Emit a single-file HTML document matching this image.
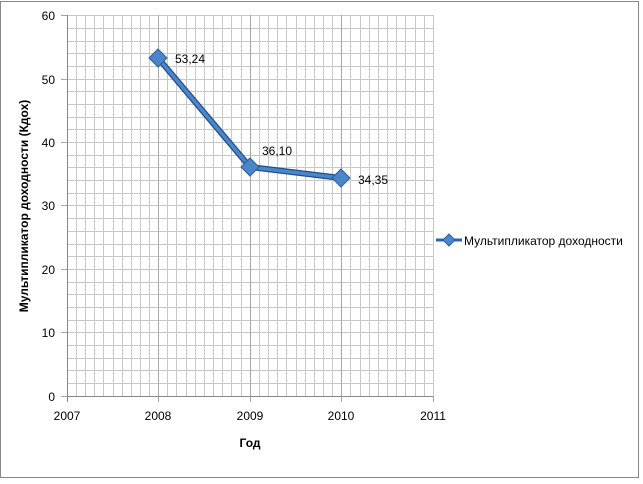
<!DOCTYPE html>
<html><head><meta charset="utf-8"><style>
body{margin:0;background:#fff;width:643px;height:479px;overflow:hidden}
text{font-family:"Liberation Sans","DejaVu Sans",sans-serif;fill:#000}
</style></head><body>
<svg width="643" height="479" xmlns="http://www.w3.org/2000/svg">
<rect x="0.5" y="1.5" width="638" height="476" fill="#fff" stroke="#888"/>
<g id="grid" stroke="#c8c8c8" stroke-width="1">
<script type="text/javascript"></script>
</g>
<g stroke="#c8c8c8" stroke-width="1">
<path d="
M67,15.5H433 M67,28.5H433 M67,41.5H433 M67,53.5H433 M67,66.5H433 M67,79.5H433 M67,91.5H433 M67,104.5H433 M67,117.5H433 M67,129.5H433 M67,142.5H433 M67,155.5H433 M67,167.5H433 M67,180.5H433 M67,193.5H433 M67,205.5H433 M67,218.5H433 M67,231.5H433 M67,244.5H433 M67,256.5H433 M67,269.5H433 M67,282.5H433 M67,294.5H433 M67,307.5H433 M67,320.5H433 M67,332.5H433 M67,345.5H433 M67,358.5H433 M67,370.5H433 M67,383.5H433
M76.5,15V396 M85.5,15V396 M94.5,15V396 M103.5,15V396 M113.5,15V396 M122.5,15V396 M131.5,15V396 M140.5,15V396 M149.5,15V396
M167.5,15V396 M176.5,15V396 M186.5,15V396 M195.5,15V396 M204.5,15V396 M213.5,15V396 M222.5,15V396 M231.5,15V396 M241.5,15V396
M259.5,15V396 M268.5,15V396 M277.5,15V396 M286.5,15V396 M296.5,15V396 M305.5,15V396 M314.5,15V396 M323.5,15V396 M332.5,15V396
M350.5,15V396 M360.5,15V396 M369.5,15V396 M378.5,15V396 M387.5,15V396 M396.5,15V396 M405.5,15V396 M415.5,15V396 M424.5,15V396
M433.5,15V396"/>
</g>
<g stroke="#a8a8a8"><path d="M158.5,15V402 M250.5,15V402 M341.5,15V402 M433.5,396V402 M61,15.5H67 M61,79.5H67 M61,142.5H67 M61,205.5H67 M61,269.5H67 M61,332.5H67 M61,396.5H67"/></g>
<g stroke="#888"><path d="M67.5,15V402 M67,396.5H433"/></g>
<g font-size="12" text-anchor="end">
<text x="55" y="20">60</text><text x="55" y="84">50</text><text x="55" y="147">40</text><text x="55" y="210">30</text><text x="55" y="274">20</text><text x="55" y="337">10</text><text x="55" y="401">0</text>
</g>
<g font-size="12" text-anchor="middle">
<text x="67" y="420">2007</text><text x="158" y="420">2008</text><text x="250" y="420">2009</text><text x="341" y="420">2010</text><text x="433" y="420">2011</text>
</g>
<text x="250" y="447" font-size="12" font-weight="bold" text-anchor="middle">Год</text>
<text transform="translate(28,206) rotate(-90)" font-size="12" font-weight="bold" text-anchor="middle">Мультипликатор доходности (Кдох)</text>
<polyline points="158,58 250,167 341,178" fill="none" stroke="#1f4e8c" stroke-width="6"/>
<polyline points="158,58 250,167 341,178" fill="none" stroke="#4a86c8" stroke-width="3.5"/>
<g fill="#4a86c8" stroke="#2a5f9e" stroke-width="1">
<path d="M158,49 L167,58 L158,67 L149,58Z"/>
<path d="M250,158 L259,167 L250,176 L241,167Z"/>
<path d="M341,169 L350,178 L341,187 L332,178Z"/>
</g>
<g font-size="12"><text x="175" y="63">53,24</text><text x="262" y="155">36,10</text><text x="358" y="184">34,35</text></g>
<line x1="436" y1="240" x2="462" y2="240" stroke="#2a64b0" stroke-width="3"/>
<path d="M449,234 L455,240 L449,246 L443,240Z" fill="#4a86c8" stroke="#2a5f9e"/>
<text x="464" y="245" font-size="12">Мультипликатор доходности</text>
</svg>
</body></html>
